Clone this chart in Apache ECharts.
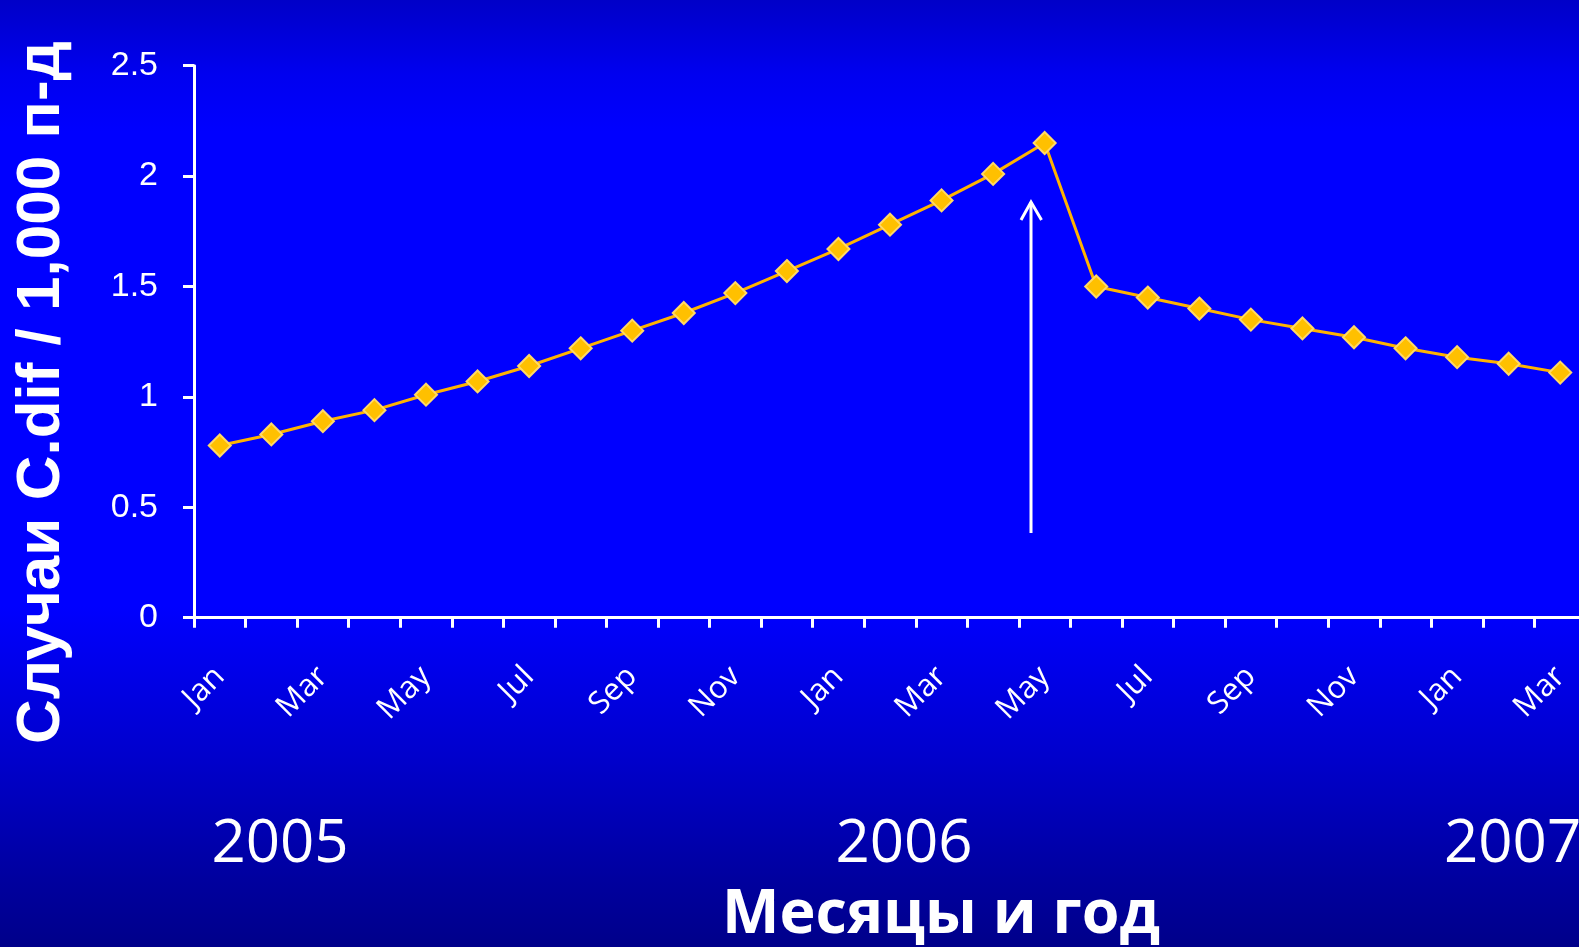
<!DOCTYPE html>
<html>
<head>
<meta charset="utf-8">
<script src="https://cdn.jsdelivr.net/npm/echarts@6/dist/echarts.min.js"></script>
<style>html,body{margin:0;padding:0;width:1579px;height:947px;overflow:hidden;}#c{width:1600px;height:947px;}</style>
</head>
<body>
<div id="c"></div>
<script>
const months = ['Jan','Feb','Mar','Apr','May','Jun','Jul','Aug','Sep','Oct','Nov','Dec',
  'Jan','Feb','Mar','Apr','May','Jun','Jul','Aug','Sep','Oct','Nov','Dec',
  'Jan','Feb','Mar'];
const rates = [0.78,0.83,0.89,0.94,1.01,1.07,1.14,1.22,1.30,1.38,1.47,1.57,
  1.67,1.78,1.89,2.01,2.15,1.50,1.45,1.40,1.35,1.31,1.27,1.22,
  1.18,1.15,1.11];
const yTicks = [0, 0.5, 1, 1.5, 2, 2.5];
const years = ['2005','2006','2007'];
const yTitle = 'Случаи C.dif / 1,000 п-д';
const xTitle = 'Месяцы и год';

const chart = echarts.init(document.getElementById('c'));
const white = '#ffffff';
chart.setOption({
  animation: false,
  backgroundColor: {
    type: 'linear', x: 0, y: 0, x2: 0, y2: 1,
    colorStops: [
      {offset: 0, color: '#0000C8'},
      {offset: 0.08, color: '#0000F0'},
      {offset: 0.14, color: '#0000FF'},
      {offset: 0.64, color: '#0000FF'},
      {offset: 0.80, color: '#0000CC'},
      {offset: 0.93, color: '#00009E'},
      {offset: 1, color: '#00008A'}
    ]
  },
  grid: {left: 194, top: 65.7, height: 552, width: 1392},
  xAxis: {
    type: 'category',
    data: months,
    boundaryGap: true,
    axisLine: {lineStyle: {color: white, width: 3}},
    axisTick: {show: true, interval: 0, length: 10, lineStyle: {color: white, width: 3}},
    axisLabel: {interval: 1, rotate: 45, margin: 54, color: white,
      fontFamily: 'Open Sans', fontSize: 31}
  },
  yAxis: {
    type: 'value', min: yTicks[0], max: yTicks[yTicks.length - 1], interval: 0.5,
    splitLine: {show: false},
    axisLine: {show: true, lineStyle: {color: white, width: 3}},
    axisTick: {show: true, length: 11, lineStyle: {color: white, width: 3}},
    axisLabel: {color: white, fontFamily: 'Liberation Sans', fontSize: 34, margin: 36,
      padding: [6, 0, 0, 0], formatter: v => String(v)}
  },
  series: [{
    type: 'line',
    data: rates,
    symbol: 'diamond',
    symbolSize: 22,
    lineStyle: {color: '#FFB300', width: 3},
    itemStyle: {color: '#FFC000', borderColor: '#FFD966', borderWidth: 2}
  }],
  graphic: [
    {type: 'text', x: 280, y: 845, style: {text: years[0], fill: white, font: '60px "Open Sans"', textAlign: 'center', textVerticalAlign: 'middle'}},
    {type: 'text', x: 904, y: 845, style: {text: years[1], fill: white, font: '60px "Open Sans"', textAlign: 'center', textVerticalAlign: 'middle'}},
    {type: 'text', x: 1444, y: 845, style: {text: years[2], fill: white, font: '60px "Open Sans"', textAlign: 'left', textVerticalAlign: 'middle'}},
    {type: 'text', x: 941, y: 916, style: {text: xTitle, fill: white, font: 'bold 61px "Open Sans"', textAlign: 'center', textVerticalAlign: 'middle'}},
    {type: 'text', x: 42, y: 744, rotation: Math.PI / 2, style: {text: yTitle, fill: white, font: 'bold 62px "Liberation Sans"', textAlign: 'left', textVerticalAlign: 'middle'}},
    {type: 'line', shape: {x1: 1031, y1: 533, x2: 1031, y2: 202}, style: {stroke: white, lineWidth: 3}},
    {type: 'polyline', shape: {points: [[1021, 220], [1031, 202], [1041.5, 220]]}, style: {stroke: white, lineWidth: 3, fill: null}}
  ]
});
</script>
</body>
</html>
